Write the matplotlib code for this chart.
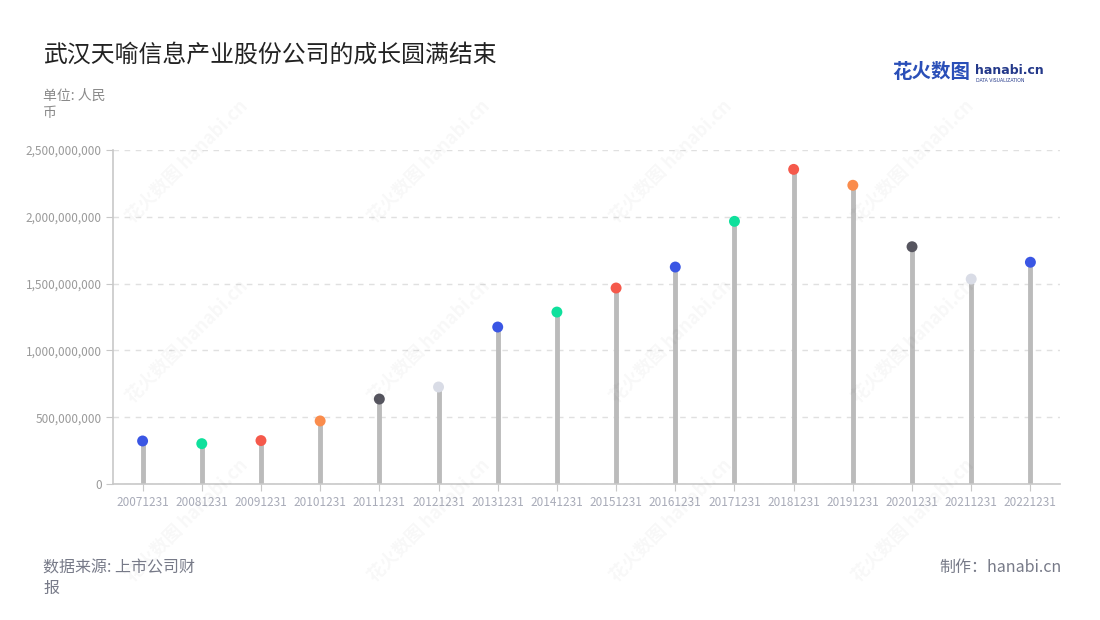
import matplotlib
matplotlib.use("Agg")
import matplotlib.pyplot as plt
from matplotlib.ticker import FuncFormatter

plt.rcParams['font.family'] = ['Noto Sans CJK SC', 'DejaVu Sans']

dates = ["20071231", "20081231", "20091231", "20101231", "20111231", "20121231",
         "20131231", "20141231", "20151231", "20161231", "20171231", "20181231",
         "20191231", "20201231", "20211231", "20221231"]
values = [322e6, 302e6, 325e6, 472e6, 636e6, 726e6, 1175e6, 1287e6, 1467e6,
          1624e6, 1966e6, 2355e6, 2236e6, 1776e6, 1534e6, 1660e6]
dot_colors = ["#3a56e4", "#0fe09c", "#f5594b", "#fa8c4c", "#56555f", "#d9dce6",
              "#3a56e4", "#0fe09c", "#f5594b", "#3a56e4", "#0fe09c", "#f5594b",
              "#fa8c4c", "#56555f", "#d9dce6", "#3a56e4"]

fig = plt.figure(figsize=(11, 6.2), dpi=100)
ax = fig.add_axes([113 / 1100, 1 - 484 / 620, (1060 - 113) / 1100, (484 - 150) / 620])

x = range(len(dates))
ax.vlines(x, 0, values, color="#bbbbbb", linewidth=3.5, zorder=2)
ax.scatter(x, values, s=62, c=dot_colors, zorder=3, edgecolors="none")

ax.set_xlim(-0.5, len(dates) - 0.5)
ax.set_ylim(0, 2.5e9)
ax.set_yticks([0, 5e8, 1e9, 1.5e9, 2e9, 2.5e9])
ax.yaxis.set_major_formatter(FuncFormatter(lambda v, _: f"{int(v):,}"))
ax.set_xticks(list(x))
ax.set_xticklabels(dates)
ax.grid(axis="y", color="#e0e0e0", linestyle=(0, (4, 4)), linewidth=1)
ax.set_axisbelow(True)
for s in ["top", "right"]:
    ax.spines[s].set_visible(False)
for s in ["left", "bottom"]:
    ax.spines[s].set_color("#c8c8c8")
    ax.spines[s].set_linewidth(1.2)
ax.tick_params(axis="y", colors="#c8c8c8", labelcolor="#9a9a9a", labelsize=8.5, length=5, pad=3)
ax.tick_params(axis="x", colors="#c8c8c8", labelcolor="#a8abb8", labelsize=8.5, length=5, pad=4)

# faint watermarks
for wx, wy in [(0.17, 0.74), (0.39, 0.74), (0.61, 0.74), (0.83, 0.74),
               (0.17, 0.45), (0.39, 0.45), (0.61, 0.45), (0.83, 0.45),
               (0.17, 0.16), (0.39, 0.16), (0.61, 0.16), (0.83, 0.16)]:
    fig.text(wx, wy, "花火数图 hanabi.cn", rotation=45, fontsize=13, color="#000000",
             alpha=0.03, ha="center", va="center", fontweight="bold")

fig.text(43 / 1100, 1 - 55 / 620, "武汉天喻信息产业股份公司的成长圆满结束", fontsize=17.2,
         color="#222222", ha="left", va="center")
fig.text(43 / 1100, 1 - 104 / 620, "单位: 人民\n币", fontsize=10, color="#8a8a8a",
         ha="left", va="center", linespacing=1.3)
fig.text(892 / 1100, 1 - 73 / 620, "花火数图", fontsize=14, color="#2a4fb8",
         fontweight="bold", ha="left", va="center")
fig.text(975 / 1100, 1 - 70 / 620, "hanabi.cn", fontsize=9, color="#24398a",
         fontweight="bold", ha="left", va="center", family=["DejaVu Sans"])
fig.text(976 / 1100, 1 - 80 / 620, "DATA VISUALIZATION", fontsize=3.3, color="#24398a",
         ha="left", va="center", family=["DejaVu Sans"])
fig.text(43 / 1100, 1 - 578 / 620, "数据来源: 上市公司财\n报", fontsize=11.5, color="#777a88",
         ha="left", va="center", linespacing=1.25)
fig.text(1062 / 1100, 1 - 567 / 620, "制作：hanabi.cn", fontsize=11.5, color="#777a88",
         ha="right", va="center")

fig.savefig("out.png", dpi=100)
